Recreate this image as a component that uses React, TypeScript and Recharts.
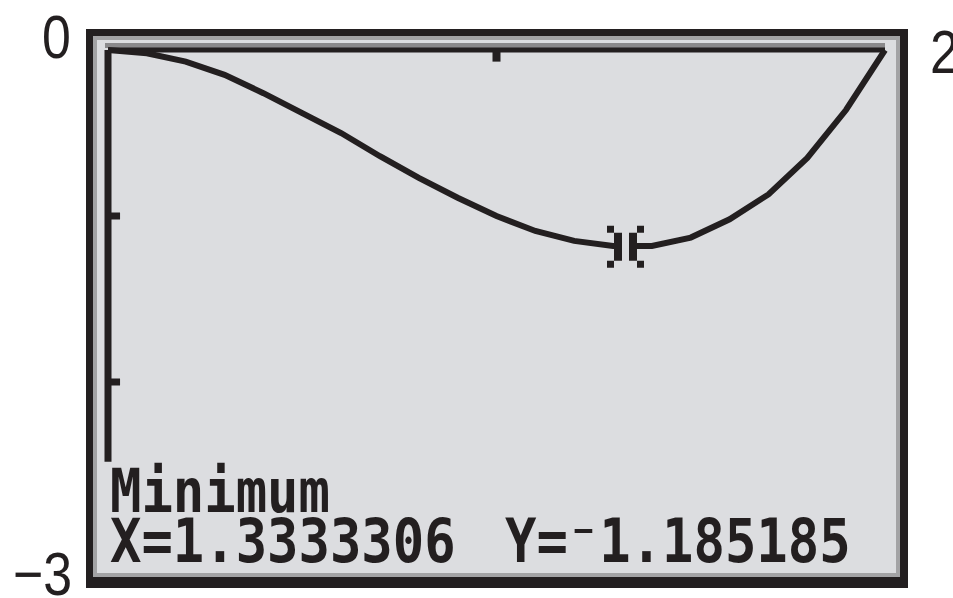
import React from 'react';
import { LineChart, Line, XAxis, YAxis, ReferenceLine, ReferenceDot } from 'recharts';

// curve
const xValues = [0, 0.1, 0.2, 0.3, 0.4, 0.5, 0.6, 0.7, 0.8, 0.9, 1, 1.1, 1.2, 1.3, 1.4, 1.5, 1.6, 1.7, 1.8, 1.9, 2];
const yValues = [0, -0.02, -0.07, -0.15, -0.26, -0.38, -0.5, -0.64, -0.77, -0.89, -1, -1.09, -1.15, -1.18, -1.18, -1.13, -1.02, -0.87, -0.65, -0.36, 0];

const xTicks = [1];
const yTicks = [-1, -2];
const xDomain = [0, 2];
const yDomain = [-3, 0];

const minimumX = 1.3333306;
const minimumY = -1.185185;

const labelXMax = '2';
const labelYMax = '0';
const labelYMin = '\u22123';
const readoutTitle = 'Minimum';
const readoutX = 'X=1.3333306';
const readoutY = 'Y=\u207B1.185185';

const data = xValues.map((x, i) => ({ x, y: yValues[i] }));

const INK = '#231f20';
const SCREEN = '#dcdde0';

// TI style ")(" cursor around the minimum
const Cursor = ({ cx, cy }: { cx?: number; cy?: number }) => {
  if (cx == null || cy == null) return null;
  return (
    <g>
      <rect x={cx - 4} y={cy - 14} width={7} height={28} fill={SCREEN} />
      <rect x={cx - 12} y={cy - 14} width={8} height={28} fill={INK} />
      <rect x={cx + 3} y={cy - 14} width={8} height={28} fill={INK} />
      <rect x={cx - 19} y={cy - 21} width={7} height={7} fill={INK} />
      <rect x={cx - 19} y={cy + 14} width={7} height={7} fill={INK} />
      <rect x={cx + 11} y={cy - 21} width={7} height={7} fill={INK} />
      <rect x={cx + 11} y={cy + 14} width={7} height={7} fill={INK} />
    </g>
  );
};

export default function App() {
  return (
    <div style={{ position: 'absolute', left: 0, top: 0, width: 953, height: 598, background: '#fff' }}>
      <svg width={953} height={598} style={{ position: 'absolute', left: 0, top: 0 }}>
        <rect x={86} y={29} width={822} height={559} fill={INK} />
        <rect x={93} y={36} width={807} height={541} fill={SCREEN} />
        <rect x={95} y={38} width={803} height={537} fill="none" stroke="#a3a3a5" strokeWidth={4} />
        {/* grey shading above the x axis line */}
        <rect x={105} y={43} width={780} height={5} fill="#8a898b" />
      </svg>

      <div style={{ position: 'absolute', left: 0, top: 0 }}>
        <LineChart width={953} height={598} data={data} margin={{ top: 50, right: 68, bottom: 50, left: 108 }}>
          <XAxis type="number" dataKey="x" domain={xDomain} hide />
          <YAxis type="number" domain={yDomain} hide />
          <ReferenceLine y={0} stroke={INK} strokeWidth={5} ifOverflow="extendDomain" />
          <ReferenceLine
            segment={[{ x: 0, y: 0 }, { x: 0, y: -2.48 }]}
            stroke={INK}
            strokeWidth={7}
          />
          {xTicks.map((t) => (
            <ReferenceLine key={'xt' + t} segment={[{ x: t, y: 0 }, { x: t, y: -0.07 }]} stroke={INK} strokeWidth={8} />
          ))}
          {yTicks.map((t) => (
            <ReferenceLine key={'yt' + t} segment={[{ x: 0, y: t }, { x: 0.031, y: t }]} stroke={INK} strokeWidth={7} />
          ))}
          <Line
            type="linear"
            dataKey="y"
            stroke={INK}
            strokeWidth={6}
            dot={false}
            isAnimationActive={false}
          />
          <ReferenceDot x={minimumX} y={minimumY} shape={(p: any) => <Cursor cx={p.cx} cy={p.cy} />} />
        </LineChart>
      </div>

      <svg width={953} height={598} style={{ position: 'absolute', left: 0, top: 0, pointerEvents: 'none' }}>
        <g fontFamily="'Liberation Sans', Arial, sans-serif" fontSize={61} fill={INK}>
          <text transform="translate(42 58) scale(0.85 1)">{labelYMax}</text>
          <text transform="translate(930 73) scale(0.85 1)">{labelXMax}</text>
          <text transform="translate(13 595) scale(0.85 1)">{labelYMin}</text>
        </g>
        <g fontFamily="'DejaVu Sans Mono', monospace" fontWeight="bold" fontSize={60} fill={INK}>
          <text transform="translate(110 512) scale(0.87 1)">{readoutTitle}</text>
          <text transform="translate(110 562) scale(0.87 1)">{readoutX}</text>
          <text transform="translate(505 562) scale(0.87 1)">{readoutY}</text>
        </g>
      </svg>
    </div>
  );
}
